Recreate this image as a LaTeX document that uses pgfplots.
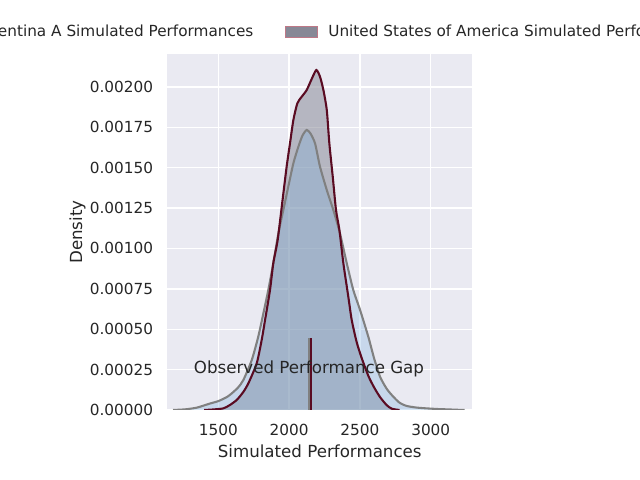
\documentclass[border=0pt]{standalone}
\usepackage{fontspec}
\setmainfont{DejaVu Sans}
\usepackage{pgfplots}
\pgfplotsset{compat=1.18}
\definecolor{bgc}{HTML}{EAEAF2}
\definecolor{txt}{HTML}{262626}
\definecolor{usafill}{RGB}{135,136,150}
\definecolor{argfill}{RGB}{120,174,222}
\definecolor{argline}{RGB}{128,128,128}
\definecolor{usaline}{RGB}{90,11,34}
\definecolor{usaedge}{RGB}{190,120,135}

\pgfplotstableread{
x y
1180 0
1230 0.000002
1277 0.000005
1350 0.000015
1441 0.000040
1500 0.000055
1560 0.000080
1595 0.000103
1640 0.000140
1677 0.000186
1736 0.000309
1782 0.000454
1818 0.000598
1853 0.000743
1888 0.000908
1924 0.001093
1959 0.001238
1994 0.001382
2030 0.001527
2065 0.001629
2095 0.001700
2124 0.001733
2150 0.001712
2183 0.001650
2218 0.001506
2266 0.001361
2312 0.001238
2359 0.001093
2407 0.000908
2453 0.000743
2501 0.000619
2559 0.000454
2600 0.000320
2642 0.000206
2690 0.000130
2736 0.000082
2780 0.000045
2830 0.000025
2900 0.000015
2972 0.000010
3050 0.000006
3113 0.000004
3200 0.000001
3240 0
}\argtable

\pgfplotstableread{
x y
1400 0
1460 0.000003
1535 0.000010
1580 0.000030
1630 0.000062
1675 0.000110
1712 0.000165
1771 0.000289
1806 0.000433
1830 0.000557
1865 0.000743
1888 0.000908
1919 0.001052
1955 0.001310
1983 0.001510
2006 0.001650
2030 0.001795
2058 0.001898
2089 0.001939
2124 0.001980
2160 0.002050
2192 0.002104
2218 0.002063
2242 0.001980
2266 0.001856
2284 0.001650
2308 0.001444
2331 0.001238
2355 0.001114
2383 0.000908
2418 0.000701
2442 0.000557
2477 0.000420
2513 0.000320
2560 0.000210
2600 0.000140
2642 0.000080
2689 0.000030
2725 0.000008
2780 0
}\usatable

\begin{document}
\begin{tikzpicture}
\useasboundingbox (0,0) rectangle (460.8pt,345.6pt);
\begin{axis}[
  at={(120.5pt,50.4pt)}, anchor=south west,
  scale only axis, width=219.4pt, height=256.3pt,
  xmin=1140, xmax=3292, ymin=0, ymax=0.002203,
  axis background/.style={fill=bgc},
  axis line style={draw=none},
  major tick length=0pt,
  grid=major, major grid style={white, line width=1pt},
  xtick={1500,2000,2500,3000},
  ytick={0,0.00025,0.0005,0.00075,0.001,0.00125,0.0015,0.00175,0.002},
  scaled y ticks=false, scaled x ticks=false,
  /pgf/number format/assume math mode=true,
  xticklabel style={/pgf/number format/1000 sep={}, anchor=base, yshift=-18pt, inner sep=0pt, font=\fontsize{11}{13}\selectfont, text=txt},
  yticklabel style={/pgf/number format/.cd, fixed, fixed zerofill, precision=5, /tikz/.cd, anchor=east, xshift=-10.1pt, inner sep=0pt, font=\fontsize{11}{13}\selectfont, text=txt},
  every axis x label/.style={at={(axis description cs:0.5,-0.1329)}, anchor=base},
  every axis y label/.style={at={(axis description cs:-0.28,0.5)}, rotate=90, anchor=base},
  label style={font=\fontsize{12}{14}\selectfont, text=txt},
  xlabel={Simulated Performances},
  ylabel={Density},
  legend columns=2,
  legend style={at={(0.5,1.062)}, anchor=center, draw=none, fill=none,
    font=\fontsize{11}{13}\selectfont, text=txt, inner sep=0pt,
    nodes={inner sep=0pt},
    /tikz/every odd column/.append style={column sep=7.9pt},
    /tikz/every even column/.append style={column sep=22.8pt}},
]
\addlegendimage{legend image code/.code={\draw[fill=argfill!55!white, draw=argline!60!white, line width=0.5pt] (0pt,-4.1pt) rectangle (22.8pt,4.1pt);}}
\addlegendentry{Argentina A Simulated Performances}
\addlegendimage{legend image code/.code={\draw[fill=usafill, draw=usaedge, line width=0.5pt] (0pt,-4.1pt) rectangle (22.8pt,4.1pt);}}
\addlegendentry{United States of America Simulated Performances}

\addplot[forget plot, draw=none, fill=usafill, fill opacity=0.53, smooth, tension=0.4] table {\usatable} \closedcycle;
\addplot[forget plot, draw=none, fill=argfill, fill opacity=0.3, smooth, tension=0.4] table {\argtable} \closedcycle;
\addplot[forget plot, argline, line width=1.5pt, smooth, tension=0.4] table {\argtable};
\addplot[forget plot, usaline, line width=1.5pt, smooth, tension=0.4] table {\usatable};
\addplot[forget plot, argline, line width=1.5pt] coordinates {(2141,0) (2141,0.000445)};
\addplot[forget plot, usaline, line width=1.5pt] coordinates {(2153,0) (2153,0.000445)};
\node[anchor=base, font=\fontsize{12}{14}\selectfont, text=txt] at (axis cs:2140,0.000227) {Observed Performance Gap};
\end{axis}
\end{tikzpicture}
\end{document}
